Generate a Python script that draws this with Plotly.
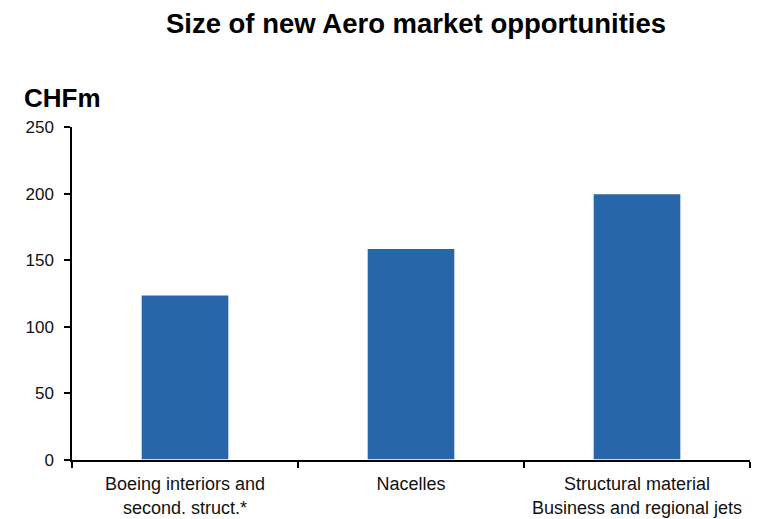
import plotly.graph_objects as go

# Market opportunity sizes (CHF millions)
categories = [
    "Boeing interiors and<br>second. struct.*",
    "Nacelles",
    "Structural material<br>Business and regional jets",
]
values = [124, 159, 200]
y_ticks = [0, 50, 100, 150, 200, 250]

BAR_BLUE = "#2766a9"
FONT = "Liberation Sans, Arial, sans-serif"

fig = go.Figure(
    go.Bar(
        x=categories,
        y=values,
        width=0.39,
        marker=dict(color=BAR_BLUE, line=dict(color="white", width=1.5)),
        hoverinfo="skip",
    )
)

W, H = 763, 519
ml, mr, mt, mb = 72, 13, 127, 59

fig.update_layout(
    width=W,
    height=H,
    margin=dict(l=ml, r=mr, t=mt, b=mb),
    paper_bgcolor="white",
    plot_bgcolor="white",
    showlegend=False,
    font=dict(family=FONT, color="#111111", size=17),
    title=dict(
        text="<b>Size of new Aero market opportunities</b>",
        x=416 / W,
        xanchor="center",
        y=1 - 23 / H,
        yanchor="middle",
        font=dict(family=FONT, size=27.5, color="#000000"),
    ),
    annotations=[
        dict(
            text="<b>CHFm</b>",
            xref="paper",
            yref="paper",
            x=(22 - ml) / (W - ml - mr),
            y=1 + (mt - 98) / (H - mt - mb),
            xanchor="left",
            yanchor="middle",
            showarrow=False,
            font=dict(family=FONT, size=26, color="#000000"),
        )
    ],
)

fig.update_xaxes(
    type="category",
    range=[-0.5, 2.5],
    automargin=False,
    showline=True,
    linecolor="#000000",
    linewidth=1.5,
    ticks="outside",
    tickson="boundaries",
    ticklen=6,
    tickwidth=1.5,
    tickcolor="#000000",
    showgrid=False,
    zeroline=False,
    tickfont=dict(family=FONT, size=18, color="#111111"),
    ticklabelstandoff=7,
)

fig.update_yaxes(
    range=[0, 250],
    tickvals=y_ticks,
    automargin=False,
    showline=True,
    linecolor="#000000",
    linewidth=1.5,
    ticks="outside",
    ticklen=6,
    tickwidth=1.5,
    tickcolor="#000000",
    showgrid=False,
    zeroline=False,
    tickfont=dict(family=FONT, size=17, color="#111111"),
    ticklabelstandoff=7,
)

fig.write_html("out.html")
